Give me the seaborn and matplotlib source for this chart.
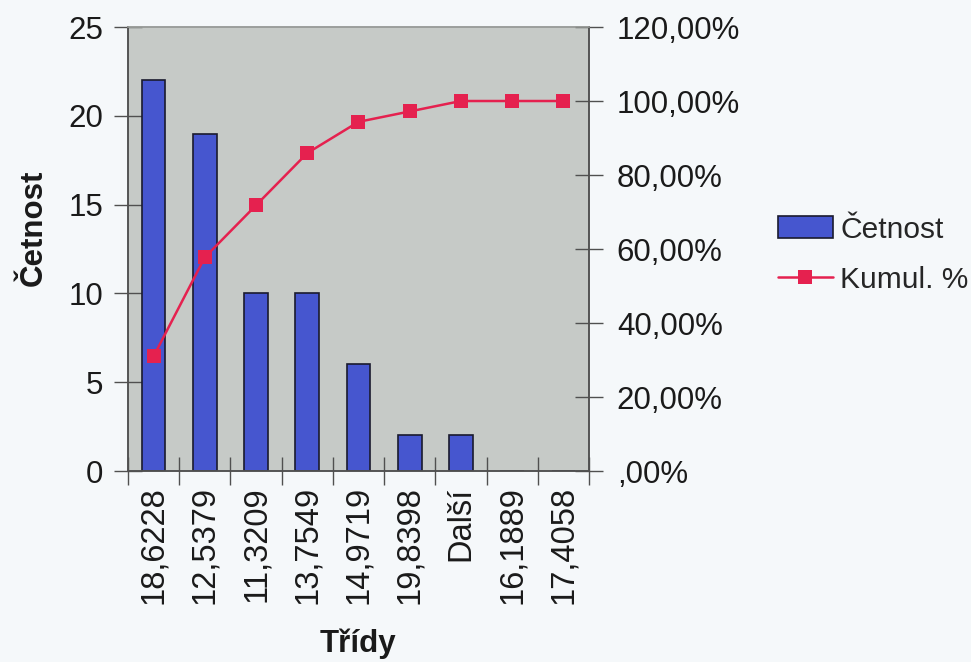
import numpy as np
import pandas as pd
import matplotlib
matplotlib.use("Agg")
import matplotlib.pyplot as plt
from matplotlib.lines import Line2D
from matplotlib.patches import Patch
import seaborn as sns

# Histogram classes (Pareto order) and their frequencies
classes = ["18,6228", "12,5379", "11,3209", "13,7549", "14,9719",
           "19,8398", "Další", "16,1889", "17,4058"]
counts = [22, 19, 10, 10, 6, 2, 2, 0, 0]
cum_pct = [30.99, 57.75, 71.83, 85.92, 94.37, 97.18, 100.0, 100.0, 100.0]

left_ticks = [0, 5, 10, 15, 20, 25]
right_ticks = [0, 20, 40, 60, 80, 100, 120]
right_tick_labels = [",00%", "20,00%", "40,00%", "60,00%", "80,00%", "100,00%", "120,00%"]

sns.set_theme(style="white")
plt.rcParams["font.family"] = ["Liberation Sans", "DejaVu Sans"]

BG = "#f5f8fa"
PLOT_BG = "#c6cac7"
BAR = "#4656cf"
LINE = "#e5214f"
AXC = "#505050"
TXT = "#1a1a1a"
FS = 22.5
FS_X = 23.5
FS_LEG = 21.5

df = pd.DataFrame({"Třídy": classes, "Četnost": counts, "Kumul": cum_pct,
                   "pos": np.arange(len(classes))})

fig = plt.figure(figsize=(9.71, 6.62), dpi=100, facecolor=BG)
ax = fig.add_axes([0.1318, 0.2885, 0.4748, 0.6707])
ax.set_facecolor(PLOT_BG)

sns.barplot(data=df, x="Třídy", y="Četnost", order=classes, color=BAR,
            saturation=1, width=0.46, edgecolor="#1a1a2e", linewidth=1.2, ax=ax)
ax.set_xlim(-0.5, len(classes) - 0.5)
ax.set_ylim(0, 25)
ax.set_yticks(left_ticks)
ax.set_yticklabels([str(t) for t in left_ticks])

ax2 = ax.twinx()
sns.lineplot(data=df, x="pos", y="Kumul", color=LINE, marker="s", markersize=10.5,
             markeredgewidth=0, linewidth=1.8, ax=ax2, legend=False)
ax2.set_ylim(0, 120)
ax2.set_yticks(right_ticks)
ax2.set_yticklabels(right_tick_labels)
ax2.set_ylabel("")
ax2.set_xlim(-0.5, len(classes) - 0.5)

# category ticks between the bars, labels centred under each bar
ax.set_xticks(np.arange(len(classes)))
ax.set_xticklabels(classes, rotation=90, fontsize=FS_X, color=TXT)
ax.set_xticks(np.arange(-0.5, len(classes) + 0.5, 1.0), minor=True)
ax.tick_params(axis="x", which="major", length=0, pad=11)
ax.tick_params(axis="x", which="minor", length=20, direction="inout",
               width=1, color=AXC, bottom=True)
ax.tick_params(axis="y", length=20, direction="inout", width=1, color=AXC,
               labelsize=FS, labelcolor=TXT, pad=8, left=True)
ax2.tick_params(axis="y", length=20, direction="inout", width=1, color=AXC,
                labelsize=FS, labelcolor=TXT, pad=10, right=True)

for a in (ax, ax2):
    for s in a.spines.values():
        s.set_color(AXC)
        s.set_linewidth(1.1)
ax.spines["top"].set_color("#9a9d9a")
ax2.spines["top"].set_color("#9a9d9a")

ax.set_ylabel("Četnost", fontsize=FS, fontweight="bold", color=TXT)
ax.yaxis.set_label_coords(-0.171, 0.547)
ax.set_xlabel("Třídy", fontsize=FS, fontweight="bold", color=TXT)
ax.xaxis.set_label_coords(0.499, -0.355)

handles = [Patch(facecolor=BAR, edgecolor="#1a1a2e", linewidth=1.2),
           Line2D([0], [0], color=LINE, marker="s", markersize=10.5,
                  markeredgewidth=0, linewidth=1.8)]
fig.legend(handles, ["Četnost", "Kumul. %"], loc="center left",
           bbox_to_anchor=(0.801, 0.615), frameon=False, fontsize=FS_LEG,
           handlelength=1.85, handleheight=0.75, handletextpad=0.25,
           labelspacing=0.75, borderaxespad=0, borderpad=0)

fig.savefig("out.png", dpi=100, facecolor=BG)
